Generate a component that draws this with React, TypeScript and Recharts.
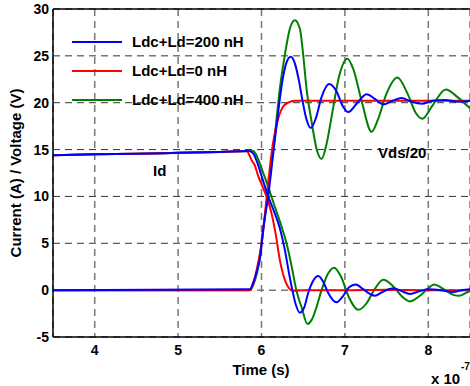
import { LineChart, Line, XAxis, YAxis, CartesianGrid, ReferenceLine } from 'recharts';

const FONT = '"Liberation Sans", Arial, Helvetica, sans-serif';

// time in units of 1e-7 s, values in A or V/20
const blueVds: [number, number][] = [
  [3.5, 14.4], [4.0, 14.5], [4.5, 14.55], [5.0, 14.65], [5.5, 14.75], [5.85, 14.85], [5.9, 14.6],
  [5.95, 13.6], [6.0, 12.2], [6.08, 10.0], [6.15, 8.4], [6.22, 6.6], [6.28, 4.3], [6.33, 1.8],
  [6.37, 0.0], [6.41, -1.5], [6.46, -2.4], [6.51, -1.9], [6.56, -0.3], [6.62, 1.0], [6.68, 1.5],
  [6.74, 0.9], [6.8, -0.3], [6.9, -1.3], [6.98, -0.6], [7.05, 0.3], [7.13, 0.6], [7.22, 0.1],
  [7.3, -0.4], [7.36, -0.6], [7.45, -0.2], [7.58, 0.2], [7.68, -0.1], [7.78, -0.4], [7.9, -0.1],
  [8.0, 0.1], [8.15, 0.0], [8.3, -0.2], [8.4, 0.0], [8.5, 0.1],
];

const blueId: [number, number][] = [
  [3.5, 0], [5.86, 0.1], [5.9, 0.8], [5.95, 2.2], [5.98, 3.3], [6.02, 6.5], [6.08, 10.0],
  [6.14, 14.5], [6.2, 19.0], [6.25, 22.3], [6.3, 24.3], [6.35, 24.9], [6.4, 24.2], [6.45, 22.3],
  [6.49, 20.3], [6.54, 18.2], [6.59, 17.3], [6.65, 18.3], [6.72, 20.6], [6.81, 22.0], [6.9, 21.2],
  [6.97, 19.7], [7.04, 19.0], [7.15, 20.0], [7.26, 20.9], [7.36, 20.4], [7.46, 19.8], [7.57, 20.2],
  [7.68, 20.5], [7.8, 20.1], [7.92, 19.9], [8.05, 20.2], [8.2, 20.3], [8.35, 20.1], [8.5, 20.2],
];

const redVds: [number, number][] = [
  [3.5, 14.4], [4.0, 14.5], [4.5, 14.55], [5.0, 14.65], [5.5, 14.75], [5.82, 14.85], [5.86, 14.3],
  [5.88, 13.9], [5.92, 13.3], [5.96, 12.2], [6.0, 11.3], [6.06, 10.0], [6.12, 8.2], [6.17, 6.0],
  [6.22, 3.2], [6.28, 1.1], [6.33, 0.2], [6.38, -0.1], [6.5, 0], [7.0, 0], [7.5, 0.05], [8.0, 0],
  [8.5, 0],
];

const redId: [number, number][] = [
  [3.5, 0], [5.86, 0], [5.9, 0.6], [5.95, 2.5], [6.0, 5.0], [6.04, 8.0], [6.08, 11.5], [6.14, 15.8],
  [6.2, 18.3], [6.26, 19.6], [6.32, 20.0], [6.4, 20.2], [7.0, 20.2], [8.5, 20.2],
];

const greenVds: [number, number][] = [
  [3.5, 14.4], [4.0, 14.5], [4.5, 14.55], [5.0, 14.65], [5.5, 14.75], [5.9, 14.85], [5.95, 14.2],
  [6.0, 13.0], [6.05, 11.8], [6.1, 10.5], [6.16, 8.9], [6.24, 6.8], [6.3, 5.0], [6.36, 2.6],
  [6.42, -0.1], [6.48, -1.8], [6.55, -3.6], [6.6, -3.2], [6.66, -1.8], [6.72, 0], [6.8, 1.8],
  [6.87, 2.4], [6.95, 1.5], [7.05, -0.8], [7.16, -2.1], [7.26, -1.4], [7.35, 0], [7.46, 1.1],
  [7.58, 0.4], [7.7, -0.8], [7.78, -1.2], [7.9, -0.6], [8.0, 0.2], [8.07, 0.6], [8.2, 0],
  [8.3, -0.5], [8.37, -0.6], [8.45, -0.3], [8.5, -0.1],
];

const greenId: [number, number][] = [
  [3.5, 0], [5.86, 0], [5.9, 0.5], [5.95, 2.0], [6.0, 4.8], [6.05, 8.5], [6.1, 12.0], [6.16, 16.5],
  [6.22, 21.5], [6.28, 25.1], [6.34, 27.9], [6.4, 28.8], [6.46, 27.9], [6.5, 25.1], [6.54, 21.5],
  [6.6, 18.0], [6.66, 15.1], [6.72, 14.0], [6.78, 15.6], [6.85, 19.0], [6.93, 22.8], [7.03, 24.7],
  [7.1, 23.6], [7.2, 20.2], [7.32, 16.9], [7.4, 18.3], [7.5, 21.0], [7.63, 22.7], [7.75, 21.0],
  [7.85, 18.9], [7.93, 18.3], [8.05, 19.7], [8.21, 21.4], [8.35, 20.6], [8.5, 19.4],
];

const xTicks = [4, 5, 6, 7, 8];
const yTicks = [-5, 0, 5, 10, 15, 20, 25, 30];

const legendItems = [
  { label: 'Ldc+Ld=200 nH', color: '#0000ff' },
  { label: 'Ldc+Ld=0 nH', color: '#ff0000' },
  { label: 'Ldc+Ld=400 nH', color: '#008000' },
];

const toPts = (arr: [number, number][]) => arr.map(([t, v]) => ({ t, v }));

const series = [
  { key: 'gV', data: greenVds, color: '#008000' },
  { key: 'gI', data: greenId, color: '#008000' },
  { key: 'rV', data: redVds, color: '#ff0000' },
  { key: 'rI', data: redId, color: '#ff0000' },
  { key: 'bV', data: blueVds, color: '#0000ff' },
  { key: 'bI', data: blueId, color: '#0000ff' },
];

const tickStyle = { fill: '#000', fontSize: 14, fontWeight: 'bold', fontFamily: FONT };
const txt: React.CSSProperties = {
  position: 'absolute',
  fontFamily: FONT,
  fontWeight: 'bold',
  fontSize: 15,
  color: '#000',
  whiteSpace: 'nowrap',
  lineHeight: 1,
};

export default function App() {
  return (
    <div style={{ position: 'absolute', left: 0, top: 0, width: 470, height: 386, background: '#fff', overflow: 'hidden' }}>
      <LineChart width={470} height={386} margin={{ top: 9, right: 0, bottom: 0, left: 0 }}>
        <CartesianGrid vertical={false} stroke="#333" strokeDasharray="7 5" />
        <CartesianGrid horizontal={false} stroke="#777" strokeWidth={1.5} strokeDasharray="7 5" />
        <XAxis
          type="number"
          dataKey="t"
          domain={[3.5, 8.5]}
          ticks={xTicks}
          allowDataOverflow
          height={49}
          tickLine={false}
          tickSize={6}
          tickMargin={2}
          axisLine={{ stroke: '#000', strokeWidth: 1.5 }}
          tick={tickStyle}
        />
        <YAxis
          type="number"
          domain={[-5, 30]}
          ticks={yTicks}
          allowDataOverflow
          width={53}
          tickLine={false}
          tickSize={2}
          tickMargin={2}
          axisLine={{ stroke: '#000', strokeWidth: 1.5 }}
          tick={tickStyle}
        />
        <ReferenceLine y={30} stroke="#000" strokeWidth={1.5} />
        {series.map((s) => (
          <Line
            key={s.key}
            data={toPts(s.data)}
            dataKey="v"
            type="monotone"
            stroke={s.color}
            strokeWidth={2}
            dot={false}
            activeDot={false}
            isAnimationActive={false}
          />
        ))}
      </LineChart>

      {/* legend */}
      <div style={{ position: 'absolute', left: 72, top: 27 }}>
        {legendItems.map((it) => (
          <div key={it.label} style={{ display: 'flex', alignItems: 'center', height: 29 }}>
            <div style={{ width: 50, height: 2, background: it.color, marginRight: 10 }} />
            <span style={{ ...txt, position: 'static' }}>{it.label}</span>
          </div>
        ))}
      </div>

      <div style={{ ...txt, left: 153, top: 163 }}>Id</div>
      <div style={{ ...txt, left: 378, top: 145 }}>Vds/20</div>
      <div style={{ ...txt, left: 261, top: 362, transform: 'translateX(-50%)' }}>Time (s)</div>
      <div style={{ ...txt, left: 431, top: 371 }}>x 10</div>
      <div style={{ ...txt, left: 461, top: 362, fontSize: 10 }}>-7</div>
      <div
        style={{
          ...txt,
          left: 15,
          top: 173,
          transform: 'translate(-50%, -50%) rotate(-90deg)',
        }}
      >
        Current (A) / Voltage (V)
      </div>
    </div>
  );
}
